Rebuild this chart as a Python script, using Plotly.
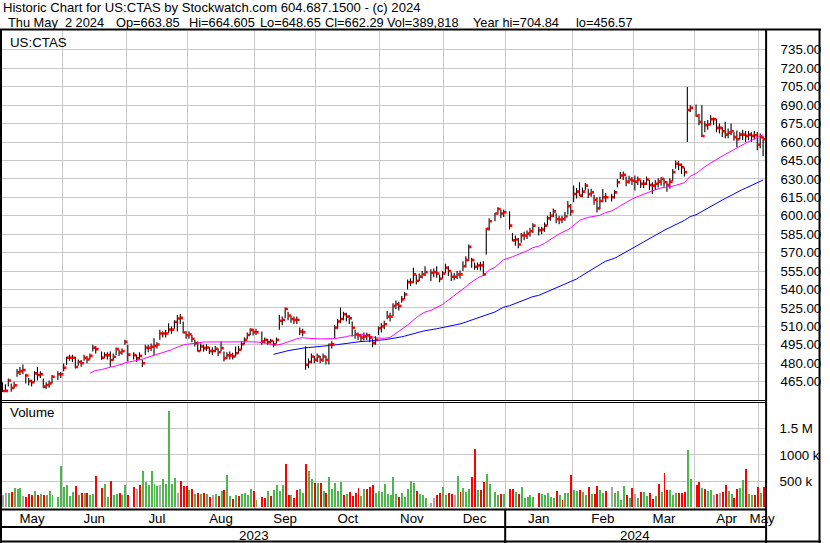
import pandas as pd
import plotly.graph_objects as go

# ---------------- data ----------------
holidays = ["2023-05-29", "2023-06-19", "2023-07-04", "2023-09-04", "2023-11-23",
            "2023-12-25", "2024-01-01", "2024-01-15", "2024-02-19", "2024-03-29"]

close = [
    # May 2023
    457.4, 457.5, 466.0, 460.0, 462.0, 472.6, 473.6, 474.5, 470.0, 465.5, 464.5, 471.8, 470.4, 471.2, 461.0, 462.3, 463.6, 469.0, 471.0, 471.0,
    # Jun
    476.4, 484.5, 484.5, 484.5, 477.0, 481.0, 480.0, 484.5, 483.0, 486.0, 492.6, 491.5, 484.5, 486.6, 486.6, 482.6, 485.3, 491.5, 488.8, 490.0, 497.4,
    # Jul
    487.0, 486.6, 484.0, 486.0, 480.0, 492.6, 492.6, 493.4, 494.2, 495.3, 504.2, 504.2, 504.2, 507.4, 507.4, 513.6, 516.4, 516.9, 505.0, 502.8,
    # Aug
    503.6, 499.9, 496.4, 490.0, 493.6, 492.3, 492.8, 490.0, 490.0, 491.8, 489.0, 492.3, 484.2, 486.4, 486.4, 485.5, 488.2, 491.0, 495.5, 499.0, 503.0, 507.2, 505.3,
    # Sep
    505.3, 497.7, 499.0, 497.2, 498.2, 495.5, 499.0, 514.5, 515.3, 524.2, 518.8, 516.0, 515.3, 515.3, 505.8, 505.3, 478.8, 481.0, 485.5, 482.8,
    # Oct
    485.5, 482.8, 485.5, 482.8, 495.0, 495.5, 509.0, 514.0, 516.0, 519.9, 518.0, 516.6, 509.0, 503.6, 502.6, 500.9, 501.8, 502.6, 500.9, 496.4, 499.0, 508.5,
    # Nov
    510.0, 511.8, 518.0, 518.0, 526.6, 528.0, 526.6, 532.0, 536.0, 546.0, 546.0, 552.3, 547.0, 550.4, 552.3, 554.2, 553.6, 554.2, 553.0, 548.8, 553.0,
    # Dec
    557.7, 555.0, 550.4, 550.4, 552.3, 552.3, 559.0, 564.0, 574.7, 564.0, 558.5, 559.6, 559.6, 552.3, 589.3, 595.5, 601.8, 605.5, 601.8, 602.8,
    # Jan 2024
    592.0, 580.0, 580.7, 576.6, 584.0, 584.0, 585.5, 587.4, 592.0, 588.2, 588.8, 592.0, 598.0, 600.0, 603.6, 597.4, 596.9, 597.4, 599.6, 607.7, 603.6,
    # Feb
    617.7, 619.6, 616.4, 619.6, 624.5, 617.7, 619.0, 613.0, 606.0, 612.0, 615.0, 615.0, 615.0, 619.0, 627.3, 632.7, 633.3, 627.8, 629.5, 628.6,
    # Mar
    627.8, 629.5, 626.0, 626.0, 629.5, 625.0, 624.5, 626.0, 627.8, 630.0, 627.3, 625.0, 627.8, 635.5, 642.3, 641.5, 639.5, 635.5, 686.0, 687.8,
    # Apr
    681.3, 676.4, 664.9, 673.6, 674.2, 678.5, 678.5, 671.5, 671.5, 668.7, 666.0, 667.6, 668.7, 664.0, 662.2, 666.0, 666.0, 665.0, 666.0, 665.0, 665.5, 657.8,
    # May 2024
    664.0, 662.29,
]

high = [
    464.5, 463.0, 467.7, 463.6, 465.0, 475.3, 477.0, 479.0, 471.5, 468.0, 466.5, 473.6, 477.0, 473.5, 467.7, 464.5, 466.0, 470.4, 473.6, 473.0,
    479.9, 485.3, 487.0, 487.0, 485.3, 483.0, 482.6, 487.0, 486.0, 488.0, 495.0, 494.0, 489.6, 489.0, 489.0, 489.6, 488.0, 492.8, 491.0, 492.0, 499.1,
    495.0, 489.0, 487.0, 489.0, 483.0, 495.0, 495.0, 496.0, 500.4, 497.0, 507.2, 506.0, 507.0, 512.6, 510.0, 515.0, 519.3, 520.0, 513.9, 506.0,
    506.0, 503.0, 499.0, 497.7, 496.0, 495.0, 495.5, 493.0, 493.0, 494.0, 492.0, 497.7, 489.6, 489.0, 489.5, 488.5, 493.6, 494.0, 498.0, 501.0, 505.0, 508.5, 508.0,
    508.0, 505.8, 501.0, 500.0, 500.0, 498.0, 501.0, 519.3, 518.0, 525.3, 522.0, 519.0, 518.0, 518.0, 509.0, 508.0, 493.6, 484.0, 488.0, 486.0,
    488.0, 486.0, 488.0, 486.0, 496.0, 498.0, 511.2, 516.0, 525.3, 522.0, 521.0, 519.0, 513.9, 507.0, 505.0, 504.0, 505.0, 505.0, 504.0, 500.0, 502.0, 509.9,
    512.5, 514.5, 522.6, 521.0, 528.8, 531.0, 530.0, 534.7, 538.0, 548.2, 549.0, 557.7, 552.0, 553.0, 555.0, 559.0, 556.4, 557.0, 559.0, 552.0, 555.0,
    561.0, 559.0, 554.0, 553.5, 555.0, 555.5, 563.0, 567.0, 576.6, 565.8, 562.0, 562.0, 562.5, 563.0, 590.1, 598.0, 602.3, 607.0, 605.0, 605.0,
    603.6, 586.0, 584.0, 582.0, 586.0, 587.0, 588.0, 590.0, 594.0, 591.0, 591.0, 594.5, 600.0, 603.0, 606.0, 602.0, 600.0, 600.0, 603.0, 612.0, 609.5,
    624.6, 622.5, 627.3, 623.0, 626.7, 622.0, 622.0, 617.0, 615.0, 615.5, 621.8, 618.5, 618.0, 621.0, 630.0, 635.5, 636.0, 632.0, 632.5, 631.5,
    632.7, 632.0, 629.0, 629.0, 632.0, 629.0, 627.3, 629.0, 630.5, 631.4, 630.5, 628.0, 630.5, 638.0, 645.0, 644.5, 642.5, 639.0, 704.84, 690.0,
    690.5, 683.0, 690.0, 677.0, 678.0, 681.8, 680.0, 679.0, 675.0, 672.0, 676.4, 671.0, 675.0, 668.0, 669.3, 668.0, 670.0, 669.0, 669.0, 668.0, 669.0, 668.2,
    667.0, 664.605,
]

low = [
    456.6, 456.6, 461.0, 456.8, 459.5, 469.0, 470.4, 471.0, 463.6, 462.0, 461.0, 464.5, 466.0, 468.0, 459.6, 459.0, 460.0, 463.6, 466.4, 468.0,
    473.6, 478.5, 482.0, 481.0, 475.8, 478.0, 477.2, 482.0, 480.0, 483.0, 489.6, 488.0, 482.8, 484.0, 483.0, 477.2, 482.0, 486.8, 486.0, 487.0, 495.0,
    481.5, 483.0, 481.0, 483.0, 477.0, 486.8, 489.0, 490.0, 486.8, 492.0, 499.1, 501.0, 501.0, 504.5, 504.0, 508.0, 505.8, 512.0, 504.5, 500.0,
    500.0, 497.0, 493.6, 489.6, 490.0, 489.5, 490.0, 487.5, 487.0, 489.0, 486.0, 489.6, 481.5, 483.5, 483.0, 483.0, 485.5, 488.0, 491.0, 495.5, 499.5, 503.0, 502.5,
    503.0, 495.0, 496.0, 495.0, 496.0, 493.0, 496.0, 507.2, 511.0, 516.6, 515.0, 513.0, 512.0, 512.0, 503.0, 502.0, 474.7, 476.0, 480.0, 480.0,
    481.0, 480.0, 481.0, 479.0, 479.0, 492.0, 500.4, 508.0, 512.6, 515.0, 514.0, 512.0, 501.8, 500.0, 499.0, 497.5, 498.5, 499.0, 497.0, 493.0, 495.0, 503.0,
    505.0, 507.7, 515.8, 514.0, 518.5, 524.0, 523.0, 529.3, 532.0, 540.1, 543.0, 545.5, 544.0, 547.0, 549.0, 551.0, 546.9, 550.0, 549.6, 546.0, 549.0,
    553.0, 551.0, 547.0, 547.5, 548.5, 549.0, 555.0, 558.0, 563.1, 557.7, 556.0, 556.0, 555.5, 550.9, 568.5, 588.0, 595.5, 601.0, 598.0, 599.0,
    588.8, 579.3, 575.5, 573.5, 578.0, 580.0, 581.0, 583.0, 586.0, 584.0, 585.0, 587.0, 592.0, 596.0, 599.0, 594.0, 593.0, 594.0, 596.0, 601.0, 600.0,
    610.9, 614.0, 616.0, 615.0, 620.5, 614.5, 615.5, 609.0, 602.7, 605.0, 610.9, 611.0, 611.5, 614.0, 623.2, 630.0, 629.0, 624.0, 626.0, 625.0,
    620.5, 625.0, 622.5, 622.5, 625.0, 621.0, 617.7, 621.0, 623.0, 624.5, 623.5, 619.5, 622.0, 628.0, 638.2, 637.0, 634.0, 632.0, 660.0, 684.5,
    680.5, 673.6, 664.0, 668.0, 670.0, 673.6, 674.0, 668.0, 667.0, 664.0, 662.8, 663.0, 665.5, 661.0, 655.7, 662.0, 661.5, 660.0, 661.5, 660.0, 662.0, 653.2,
    655.0, 648.65,
]

volume_k = [
    230, 270, 270, 295, 372, 346, 372, 218, 199, 256, 237, 314, 237, 256, 237, 237, 314, 237, 199, 795,
    391, 430, 218, 295, 410, 237, 276, 276, 276, 237, 256, 602, 372, 449, 199, 506, 237, 256, 276, 237, 430,
    237, 391, 352, 430, 699, 487, 430, 699, 449, 410, 430, 545, 449, 1833, 449, 564, 276, 506, 410, 410,
    333, 352, 256, 276, 256, 276, 256, 199, 237, 256, 218, 314, 333, 622, 218, 160, 237, 218, 256, 276, 237, 352, 314,
    141, 199, 180, 314, 218, 333, 430, 314, 430, 833, 237, 237, 180, 333, 352, 276, 833, 699, 545, 468,
    468, 468, 314, 276, 583, 352, 468, 314, 487, 237, 256, 295, 218, 276, 372, 218, 352, 352, 391, 430, 276, 314,
    285, 449, 256, 237, 583, 256, 199, 276, 199, 352, 506, 468, 314, 256, 237, 180, 83, 180, 237, 276, 391,
    237, 276, 256, 237, 602, 295, 372, 295, 352, 583, 1122, 333, 333, 487, 641, 449, 295, 237, 256, 256,
    352, 352, 295, 256, 391, 180, 199, 237, 199, 276, 256, 237, 276, 199, 180, 314, 237, 141, 276, 276, 622,
    333, 314, 333, 295, 237, 391, 256, 256, 410, 333, 276, 314, 391, 276, 314, 141, 410, 237, 180, 372,
    256, 180, 295, 295, 218, 276, 160, 218, 449, 295, 660, 333, 333, 237, 276, 276, 276, 295, 1103, 545,
    430, 487, 372, 352, 314, 333, 237, 256, 276, 295, 430, 314, 256, 180, 352, 372, 526, 737, 256, 237, 237, 391,
    276, 390,
]

# u = up (green), d = down (red), n = unchanged (grey); one string per month
volume_dir_months = [
    "nnuduuundddududuuuuu",          # May 2023
    "uuuudududuud" "duuduuduu",       # Jun
    "d" "dnduuuuuunuuuuunddd",        # Jul
    "ududududnudud" "uududuuuud",     # Aug
    "u" "dduduuuuddudduuduud",        # Sep
    "ududuuuuudud" "ddduuddduu",      # Oct
    "uuuuuuduuuuuduuu" "nnddu",       # Nov
    "uddnuduuuddudduu" "uudu",        # Dec
    "dduduuuuu" "duuuuududuud",       # Jan 2024
    "uuduududduud" "nuuuudud",        # Feb
    "nuduuddududduuuddduu",           # Mar
    "dduduundnddu" "udduuduudd",      # Apr
    "ud",                             # May 2024
]
volume_dir = "".join(volume_dir_months)

# header texts and the pixel centre of each piece of the second line
header_title = "Historic Chart for US:CTAS by Stockwatch.com 604.687.1500 - (c) 2024"
header_parts = ["Thu May\u00a0\u00a02 2024", "Op=663.85", "Hi=664.605", "Lo=648.65",
                "Cl=662.29", "Vol=389,818", "Year hi=704.84", "lo=456.57"]
header_part_cx = [56.5, 150, 224.5, 294, 358.5, 428, 522, 611.5]

# ---------------- derived positions (weekday slots; holidays stay empty) ----------------
weekdays = pd.bdate_range("2023-05-03", "2024-05-02")
hol = set(pd.to_datetime(holidays))
trade_days = [d for d in weekdays if d not in hol]
slot_of = {d: i for i, d in enumerate(weekdays)}
xs = [slot_of[d] for d in trade_days]

n = len(trade_days)
close, high, low, volume_k = close[:n], high[:n], low[:n], volume_k[:n]
volume_dir = (volume_dir + "u" * n)[:n]

s_close = pd.Series(close)
ma30 = s_close.rolling(30).mean()
ma90 = s_close.rolling(90).mean()

# ---------------- geometry helpers ----------------
W, H = 830, 543
def px(x):
    return x / W
def py(y):
    return 1 - y / H

X0, X1 = -0.17, 261.86          # slot range
P_LEFT, P_RIGHT = 2, 774          # pixel extent of panes
PRICE_TOP, PRICE_BOT = 31, 400
VOL_TOP, VOL_BOT = 403, 508.5

def price_at(y):
    return 465 + (381.7 - y) / 1.2292

def vol_at(y):
    return (507.3 - y) / 26.2 * 500000

# month boundaries & label positions
bounds = [i - 0.5 for i in range(1, len(weekdays)) if weekdays[i].month != weekdays[i - 1].month]
edges = [X0] + bounds + [X1]
month_names = [weekdays[0].strftime("%b")] + [weekdays[int(b + 0.5)].strftime("%b") for b in bounds]
month_mid = [(edges[i] + edges[i + 1]) / 2 for i in range(len(edges) - 1)]
year_split = [b for b in bounds if weekdays[int(b + 0.5)].month == 1][0]

FONT = "Liberation Sans, Arial, sans-serif"
FS = 13.3
GRID = "#c8c8c8"

fig = go.Figure()

# high-low bars
bx, by = [], []
for x, h, l in zip(xs, high, low):
    bx += [x, x, None]
    by += [l, h, None]
fig.add_trace(go.Scatter(x=bx, y=by, mode="lines", line=dict(color="black", width=1.1),
                         hoverinfo="skip", showlegend=False, xaxis="x", yaxis="y"))
# moving averages
fig.add_trace(go.Scatter(x=xs, y=ma30, mode="lines", line=dict(color="#ff00ff", width=1),
                         showlegend=False, xaxis="x", yaxis="y"))
fig.add_trace(go.Scatter(x=xs, y=ma90, mode="lines", line=dict(color="#0000ff", width=1),
                         showlegend=False, xaxis="x", yaxis="y"))
# close ticks
fig.add_trace(go.Scatter(x=[x + 0.5 for x in xs], y=close, mode="markers",
                         marker=dict(symbol="square", size=2.6, color="#ff0000", line=dict(width=0)),
                         showlegend=False, xaxis="x", yaxis="y"))

# volume
cmap = {"u": "#4cb84c", "d": "#ff0000", "n": "#a8a8a8"}
fig.add_trace(go.Bar(x=[x + 0.17 for x in xs], y=[v * 1000 for v in volume_k],
                     marker=dict(color=[cmap[c] for c in volume_dir], line=dict(width=0)),
                     width=0.68, showlegend=False, xaxis="x2", yaxis="y2"))

price_ticks = list(range(465, 736, 15))

fig.update_layout(
    width=W, height=H, margin=dict(l=0, r=0, t=0, b=0),
    paper_bgcolor="white", plot_bgcolor="white",
    font=dict(family=FONT, size=FS, color="black"),
    bargap=0, hovermode=False,
    xaxis=dict(domain=[px(P_LEFT), px(P_RIGHT)], range=[X0, X1], showticklabels=False,
               showgrid=False, zeroline=False, ticks="", anchor="y",
               minor=dict(tickmode="array", tickvals=bounds, showgrid=True, gridcolor=GRID, gridwidth=1, ticks="")),
    yaxis=dict(domain=[py(PRICE_BOT), py(PRICE_TOP)], range=[price_at(PRICE_BOT), price_at(PRICE_TOP)],
               side="right", tickmode="array", tickvals=price_ticks,
               ticktext=[f"{v:.2f}" for v in price_ticks], showgrid=True, gridcolor=GRID,
               zeroline=False, ticks="", ticklabelstandoff=14, anchor="x"),
    xaxis2=dict(domain=[px(P_LEFT), px(P_RIGHT)], range=[X0, X1], matches="x", anchor="y2",
                tickmode="array", tickvals=month_mid, ticktext=month_names, showgrid=False,
                zeroline=False, ticks="", ticklabelstandoff=0,
                minor=dict(tickmode="array", tickvals=bounds, showgrid=True, gridcolor=GRID, gridwidth=1, ticks="")),
    yaxis2=dict(domain=[py(VOL_BOT), py(VOL_TOP)], range=[vol_at(VOL_BOT), vol_at(VOL_TOP)],
                side="right", tickmode="array", tickvals=[500000, 1000000, 1500000],
                ticktext=["500 k", "1000 k", "1.5 M"], showgrid=True, gridcolor=GRID,
                zeroline=False, ticks="", ticklabelstandoff=13, anchor="x2"),
)

# frame lines
def hline(y, x0, x1, w=1):
    fig.add_shape(type="line", xref="paper", yref="paper", x0=px(x0), x1=px(x1), y0=py(y), y1=py(y),
                  line=dict(color="black", width=w))
def vline(x, y0, y1, w=1):
    fig.add_shape(type="line", xref="paper", yref="paper", x0=px(x), x1=px(x), y0=py(y0), y1=py(y1),
                  line=dict(color="black", width=w))

hline(29.5, 0, W, 2)
hline(400.5, 0, P_RIGHT, 1)
hline(402.5, 0, P_RIGHT, 1)
hline(509.5, 0, P_RIGHT, 2)
hline(527, 0, P_RIGHT, 2)
hline(541.5, 0, W, 2)
vline(1, 29, H, 2)
vline(P_RIGHT + 0.5, 29, H, 2)
vline(828.5, 29, H, 2)
split_px = P_LEFT + (year_split - X0) / (X1 - X0) * (P_RIGHT - P_LEFT)
vline(split_px, 509, H, 2)

# year labels
fig.add_annotation(x=(X0 + year_split) / 2, y=py(535), xref="x2", yref="paper", text="2023",
                   showarrow=False, font=dict(size=FS), xanchor="center", yanchor="middle")
fig.add_annotation(x=(year_split + X1) / 2, y=py(535), xref="x2", yref="paper", text="2024",
                   showarrow=False, font=dict(size=FS), xanchor="center", yanchor="middle")

# header text
fig.add_annotation(x=px(2), y=py(7.5), xref="paper", yref="paper", text=header_title, showarrow=False,
                   xanchor="left", yanchor="middle", font=dict(size=13.1), borderpad=0)
for part, cx in zip(header_parts, header_part_cx):
    fig.add_annotation(x=px(cx), y=py(22.3), xref="paper", yref="paper", text=part, showarrow=False,
                       xanchor="center", yanchor="middle", font=dict(size=12.8), borderpad=0)
fig.add_annotation(x=px(8), y=py(42), xref="paper", yref="paper", text="US:CTAS", showarrow=False,
                   xanchor="left", yanchor="middle", font=dict(size=FS))
fig.add_annotation(x=px(8), y=py(413), xref="paper", yref="paper", text="Volume", showarrow=False,
                   xanchor="left", yanchor="middle", font=dict(size=FS))

fig.write_html("out.html", config={"displayModeBar": False, "staticPlot": True},
               post_script="document.documentElement.style.margin='0';"
                           "document.body.style.margin='0';document.body.style.overflow='hidden';")
